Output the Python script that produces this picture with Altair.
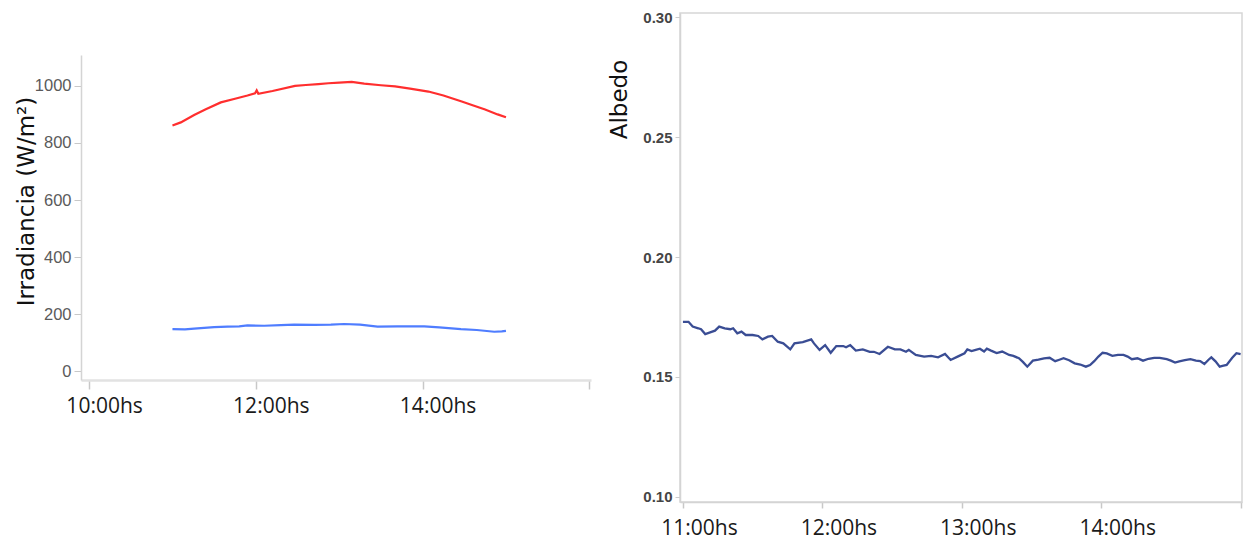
import altair as alt
import pandas as pd

# ---- data ----
irr_hours = [11.00, 11.10, 11.26, 11.40, 11.58, 11.75, 11.90, 11.99, 12.01, 12.03, 12.20,
             12.47, 12.60, 12.75, 12.87, 13.00, 13.15, 13.30, 13.50, 13.67, 13.85, 14.07,
             14.25, 14.47, 14.60, 14.75, 14.90, 15.00]
irr_global = [861, 872, 898, 918, 942, 955, 966, 974, 984, 972, 982,
              1000, 1003, 1006, 1009, 1011, 1014, 1008, 1002, 998, 990, 980,
              966, 945, 932, 917, 900, 890]

ref_hours = [11.00, 11.15, 11.26, 11.50, 11.66, 11.80, 11.90, 12.10, 12.30, 12.46, 12.70,
             12.90, 13.06, 13.25, 13.46, 13.70, 14.02, 14.20, 14.46, 14.65, 14.86, 14.95, 15.00]
irr_reflected = [148, 147, 150, 155, 157, 158, 161, 160, 162, 164, 163,
                 164, 166, 164, 157, 158, 158, 154, 148, 145, 139, 140, 142]

alb_hours = [11.00, 11.04, 11.07, 11.11, 11.13, 11.16, 11.19, 11.23, 11.26, 11.30, 11.34,
             11.36, 11.39, 11.42, 11.45, 11.50, 11.54, 11.57, 11.61, 11.64, 11.68, 11.72,
             11.77, 11.80, 11.86, 11.92, 11.94, 11.98, 12.02, 12.06, 12.10, 12.15, 12.17,
             12.20, 12.24, 12.29, 12.34, 12.37, 12.41, 12.47, 12.52, 12.56, 12.60, 12.62,
             12.67, 12.73, 12.78, 12.83, 12.88, 12.92, 12.97, 13.02, 13.04, 13.07, 13.10,
             13.13, 13.16, 13.18, 13.21, 13.25, 13.29, 13.34, 13.37, 13.41, 13.44, 13.47,
             13.51, 13.55, 13.59, 13.63, 13.67, 13.70, 13.73, 13.77, 13.81, 13.85, 13.89,
             13.92, 13.95, 13.98, 14.01, 14.04, 14.08, 14.12, 14.16, 14.19, 14.22, 14.26,
             14.30, 14.34, 14.38, 14.42, 14.47, 14.50, 14.53, 14.56, 14.60, 14.64, 14.68,
             14.71, 14.74, 14.77, 14.79, 14.82, 14.85, 14.87, 14.90, 14.94, 14.97, 15.00]
albedo = [0.1730, 0.1730, 0.1710, 0.1703, 0.1699, 0.1679, 0.1685, 0.1693, 0.1710, 0.1703, 0.1699,
          0.1703, 0.1682, 0.1689, 0.1675, 0.1675, 0.1671, 0.1657, 0.1668, 0.1671, 0.1647, 0.1640,
          0.1615, 0.1640, 0.1645, 0.1657, 0.1640, 0.1613, 0.1633, 0.1601, 0.1629, 0.1629, 0.1624,
          0.1633, 0.1610, 0.1615, 0.1605, 0.1605, 0.1596, 0.1626, 0.1615, 0.1615, 0.1605, 0.1613,
          0.1592, 0.1585, 0.1588, 0.1582, 0.1596, 0.1571, 0.1585, 0.1599, 0.1615, 0.1608, 0.1613,
          0.1618, 0.1606, 0.1618, 0.1610, 0.1600, 0.1606, 0.1592, 0.1588, 0.1578, 0.1562, 0.1543,
          0.1568, 0.1572, 0.1578, 0.1580, 0.1566, 0.1572, 0.1578, 0.1570, 0.1557, 0.1552, 0.1543,
          0.1550, 0.1566, 0.1585, 0.1601, 0.1598, 0.1588, 0.1592, 0.1592, 0.1585, 0.1574, 0.1578,
          0.1568, 0.1576, 0.1580, 0.1580, 0.1574, 0.1568, 0.1560, 0.1565, 0.1570, 0.1574, 0.1568,
          0.1566, 0.1554, 0.1572, 0.1582, 0.1565, 0.1543, 0.1546, 0.1550, 0.1580, 0.1599, 0.1595]

irr_df = pd.concat([
    pd.DataFrame({"hora": irr_hours, "valor": irr_global, "serie": "Incidente"}),
    pd.DataFrame({"hora": ref_hours, "valor": irr_reflected, "serie": "Reflejada"}),
])
alb_df = pd.DataFrame({"hora": alb_hours, "albedo": albedo})

TITLE_FONT = "DejaVu Sans"
XLAB_FONT = "Open Sans"

# ---- left panel: irradiance ----
left = alt.Chart(irr_df).mark_line(strokeWidth=2.2).encode(
    x=alt.X("hora:Q",
            scale=alt.Scale(domain=[9.903, 16.02], nice=False, zero=False),
            axis=alt.Axis(values=[10, 12, 14, 16], title=None, grid=False,
                          labelExpr="datum.value < 15 ? datum.value + ':00hs' : ''",
                          labelFont=XLAB_FONT, labelFontSize=21, labelColor="#1a1a1a",
                          labelOffset=15, labelPadding=6, labelFlush=False,
                          domainColor="#e2e2e2", domainWidth=2.5,
                          tickColor="#c8c8c8", tickSize=9, tickWidth=1.5)),
    y=alt.Y("valor:Q",
            scale=alt.Scale(domain=[-30, 1108], nice=False, zero=False),
            axis=alt.Axis(values=[0, 200, 400, 600, 800, 1000], format="d", grid=False,
                          title="Irradiancia (W/m²)", titleFont=TITLE_FONT,
                          titleFontSize=23, titleFontWeight="normal", titleColor="#111111",
                          titleX=-55, titleY=146, titleBaseline="middle",
                          labelFont="Liberation Sans", labelFontSize=16.5, labelColor="#5a5a5a",
                          labelPadding=3, labelFlush=False,
                          domainColor="#d4d4d4", domainWidth=1.5,
                          tickColor="#c8c8c8", tickSize=7)),
    color=alt.Color("serie:N", legend=None,
                    scale=alt.Scale(domain=["Incidente", "Reflejada"],
                                    range=["#ff2e2e", "#4f7dff"])),
).properties(width=510, height=325, view=alt.ViewBackground(stroke="transparent"))

spacer = alt.Chart(pd.DataFrame({"a": [0]})).mark_point(opacity=0, size=1).encode(
    x=alt.value(5), y=alt.value(5)
).properties(width=510, height=40, view=alt.ViewBackground(stroke="transparent"))

left_col = alt.vconcat(spacer, left, spacing=0)

# ---- right panel: albedo ----
right = alt.Chart(alb_df).mark_line(strokeWidth=2.3, color="#3a4d94").encode(
    x=alt.X("hora:Q",
            scale=alt.Scale(domain=[10.979, 15.01], nice=False, zero=False),
            axis=alt.Axis(values=[11, 12, 13, 14, 15], title=None, grid=False,
                          labelExpr="datum.value < 15 ? datum.value + ':00hs' : ''",
                          labelFont=XLAB_FONT, labelFontSize=21, labelColor="#1a1a1a",
                          labelOffset=16, labelPadding=9, labelFlush=False,
                          domainColor="#d4d4d4", domainWidth=1.5,
                          tickColor="#c8c8c8", tickSize=6, tickWidth=1.5)),
    y=alt.Y("albedo:Q",
            scale=alt.Scale(domain=[0.0979, 0.3017], nice=False, zero=False),
            axis=alt.Axis(values=[0.10, 0.15, 0.20, 0.25, 0.30], format=".2f", grid=False,
                          title="Albedo", titleFont=TITLE_FONT, titleFontSize=23,
                          titleFontWeight="normal", titleColor="#111111",
                          titleX=-61, titleY=86, titleBaseline="middle",
                          labelFont="Liberation Sans", labelFontSize=15, labelFontWeight="bold",
                          labelColor="#454545", labelPadding=3, labelFlush=False,
                          domainColor="#d4d4d4", domainWidth=1.5,
                          tickColor="#cccccc", tickSize=5)),
).properties(width=562, height=489, view=alt.ViewBackground(stroke="#d6d6d6", strokeWidth=1.5))

chart = alt.hconcat(left_col, right, spacing=15).properties(
    padding={"left": 14, "top": 9, "right": 0, "bottom": 0}
).configure(background="white")

chart.save("out.html", embed_options={"renderer": "svg", "actions": False})
